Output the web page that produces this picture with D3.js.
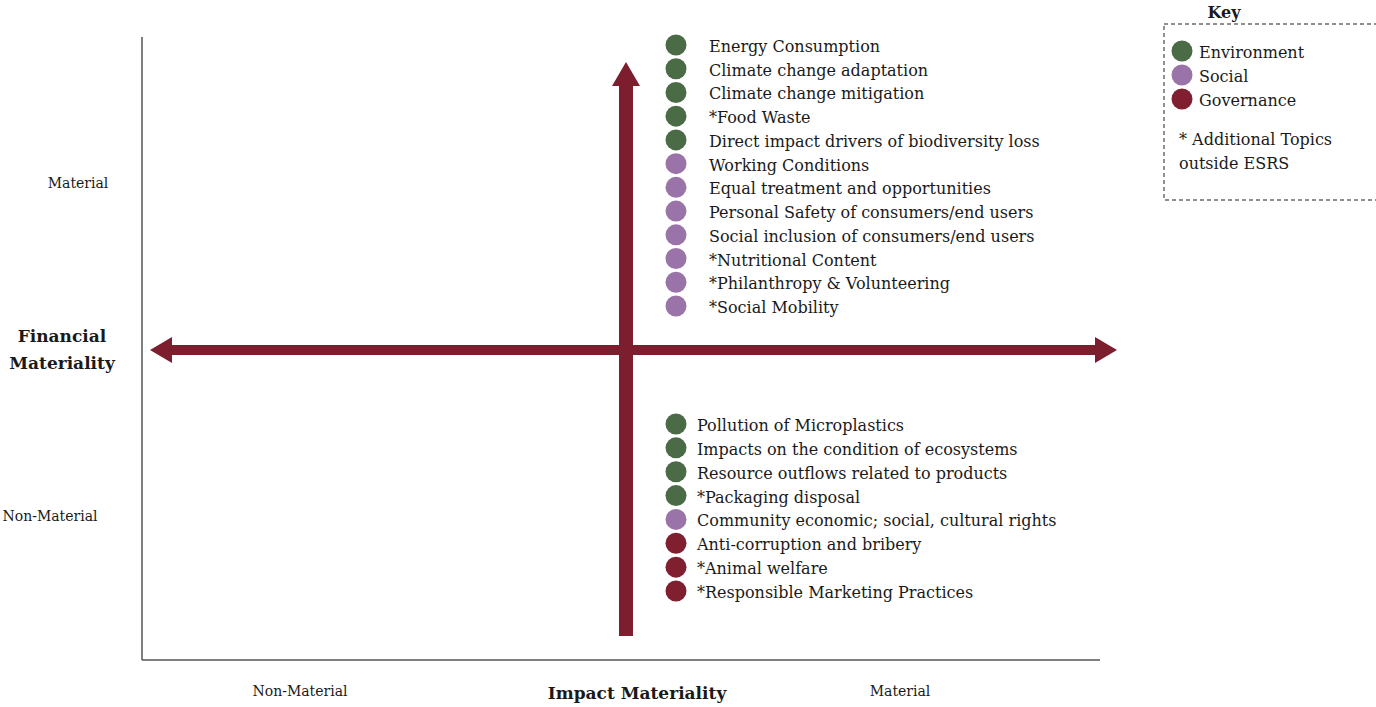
<!DOCTYPE html>
<html>
<head>
<meta charset="utf-8">
<script src="https://cdn.jsdelivr.net/npm/d3@7"></script>
<style>
  body { margin: 0; background: #fff; overflow: hidden; }
  text { font-family: "DejaVu Serif", "Liberation Serif", serif; fill: #1a1a1a; }
</style>
</head>
<body>
<script>
// materiality levels
var levels = ["Non-Material", "Material"];

// topics: material on both axes
var topTopics = ["Energy Consumption", "Climate change adaptation", "Climate change mitigation",
    "*Food Waste", "Direct impact drivers of biodiversity loss", "Working Conditions",
    "Equal treatment and opportunities", "Personal Safety of consumers/end users",
    "Social inclusion of consumers/end users", "*Nutritional Content",
    "*Philanthropy & Volunteering", "*Social Mobility"];
var topPillars = ["Environment", "Environment", "Environment", "Environment", "Environment",
    "Social", "Social", "Social", "Social", "Social", "Social", "Social"];

// topics: impact material, financially non-material
var bottomTopics = ["Pollution of Microplastics", "Impacts on the condition of ecosystems",
    "Resource outflows related to products", "*Packaging disposal",
    "Community economic; social, cultural rights", "Anti-corruption and bribery",
    "*Animal welfare", "*Responsible Marketing Practices"];
var bottomPillars = ["Environment", "Environment", "Environment", "Environment",
    "Social", "Governance", "Governance", "Governance"];

var pillars = ["Environment", "Social", "Governance"];
var pillarColors = ["#4b6b47", "#9a74a8", "#7f1f2f"];
var arrowColor = "#7d1e2e";

var width = 1376, height = 707;
var svg = d3.select("body").append("svg")
    .attr("width", width)
    .attr("height", height);

var color = d3.scaleOrdinal().domain(pillars).range(pillarColors);

// plot frame
var frameLeft = 142, frameRight = 1100, frameTop = 37, frameBottom = 660;

svg.append("line")
    .attr("x1", frameLeft).attr("x2", frameLeft).attr("y1", frameTop).attr("y2", frameBottom)
    .attr("stroke", "#555").attr("stroke-width", 1.5);
svg.append("line")
    .attr("x1", frameLeft).attr("x2", frameRight).attr("y1", frameBottom).attr("y2", frameBottom)
    .attr("stroke", "#555").attr("stroke-width", 1.5);

// arrows
var cx = 626, cy = 350;
var t = 5; // half shaft thickness
var hx = 22, hw = 13;
var hLeft = 150, hRight = 1117;
svg.append("path")
    .attr("d", "M" + hLeft + "," + cy +
        "L" + (hLeft + hx) + "," + (cy - hw) + "L" + (hLeft + hx) + "," + (cy - t) +
        "L" + (hRight - hx) + "," + (cy - t) + "L" + (hRight - hx) + "," + (cy - hw) +
        "L" + hRight + "," + cy +
        "L" + (hRight - hx) + "," + (cy + hw) + "L" + (hRight - hx) + "," + (cy + t) +
        "L" + (hLeft + hx) + "," + (cy + t) + "L" + (hLeft + hx) + "," + (cy + hw) + "Z")
    .attr("fill", arrowColor);

var vTop = 62, vBottom = 636, vw = 7, vhw = 14, vhy = 24;
svg.append("path")
    .attr("d", "M" + cx + "," + vTop +
        "L" + (cx + vhw) + "," + (vTop + vhy) + "L" + (cx + vw) + "," + (vTop + vhy) +
        "L" + (cx + vw) + "," + vBottom + "L" + (cx - vw) + "," + vBottom +
        "L" + (cx - vw) + "," + (vTop + vhy) + "L" + (cx - vhw) + "," + (vTop + vhy) + "Z")
    .attr("fill", arrowColor);

// axis labels
svg.append("text").attr("x", 78).attr("y", 188).attr("text-anchor", "middle")
    .attr("font-size", "14px").text(levels[1]);
svg.append("text").attr("x", 50).attr("y", 521).attr("text-anchor", "middle")
    .attr("font-size", "14px").text(levels[0]);
svg.append("text").attr("x", 62).attr("y", 342).attr("text-anchor", "middle")
    .attr("font-size", "17px").attr("font-weight", "bold").text("Financial");
svg.append("text").attr("x", 62).attr("y", 369).attr("text-anchor", "middle")
    .attr("font-size", "17px").attr("font-weight", "bold").text("Materiality");

svg.append("text").attr("x", 300).attr("y", 696).attr("text-anchor", "middle")
    .attr("font-size", "14px").text(levels[0]);
svg.append("text").attr("x", 900).attr("y", 696).attr("text-anchor", "middle")
    .attr("font-size", "14px").text(levels[1]);
svg.append("text").attr("x", 637).attr("y", 699).attr("text-anchor", "middle")
    .attr("font-size", "17px").attr("font-weight", "bold").text("Impact Materiality");

// topic lists
function drawList(topics, pillarsOf, y0, y1, dotX, textX) {
    var row = d3.scalePoint().domain(topics).range([y0, y1]);
    var g = svg.append("g");
    var items = g.selectAll("g.item")
        .data(topics)
        .enter().append("g")
        .attr("class", "item")
        .attr("transform", (d) => "translate(0," + row(d) + ")");
    items.append("circle")
        .attr("cx", dotX).attr("cy", 0).attr("r", 10.5)
        .attr("fill", (d, i) => color(pillarsOf[i]));
    items.append("text")
        .attr("x", textX).attr("y", 7)
        .attr("font-size", "16px")
        .text((d) => d);
}
drawList(topTopics, topPillars, 45, 306, 676, 709);
drawList(bottomTopics, bottomPillars, 424, 591, 676, 697);

// key
var key = svg.append("g");
key.append("text").attr("x", 1224).attr("y", 18).attr("text-anchor", "middle")
    .attr("font-size", "16px").attr("font-weight", "bold").text("Key");
key.append("rect")
    .attr("x", 1164).attr("y", 24).attr("width", 240).attr("height", 176)
    .attr("fill", "none").attr("stroke", "#222").attr("stroke-width", 1)
    .attr("stroke-dasharray", "4,3");
var ky = d3.scalePoint().domain(pillars).range([51, 99]);
var ki = key.selectAll("g.k").data(pillars).enter().append("g")
    .attr("transform", (d) => "translate(0," + ky(d) + ")");
ki.append("circle").attr("cx", 1182).attr("cy", 0).attr("r", 10.5)
    .attr("fill", (d) => color(d));
ki.append("text").attr("x", 1199).attr("y", 7).attr("font-size", "16px").text((d) => d);
key.append("text").attr("x", 1179).attr("y", 145).attr("font-size", "16px")
    .text("* Additional Topics");
key.append("text").attr("x", 1179).attr("y", 169).attr("font-size", "16px")
    .text("outside ESRS");
</script>
</body>
</html>
